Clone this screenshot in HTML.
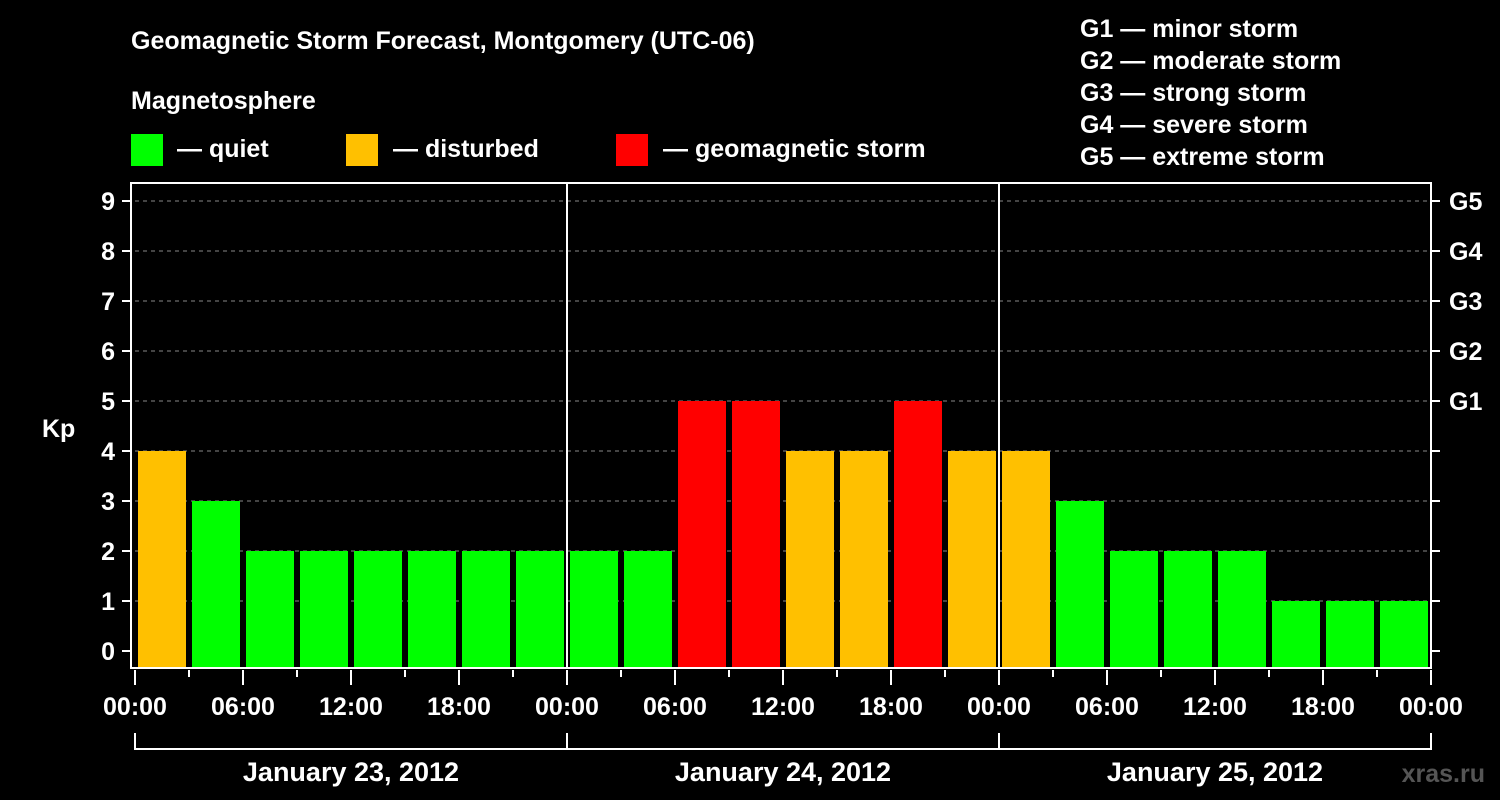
<!DOCTYPE html>
<html><head><meta charset="utf-8"><style>
html,body{margin:0;padding:0;background:#000;}
svg{display:block;font-family:"Liberation Sans",Arial,sans-serif;font-weight:bold;}
</style></head><body>
<svg id="chart" width="1500" height="800" viewBox="0 0 1500 800">
<rect width="1500" height="800" fill="#000"/>
<text x="131" y="49" fill="#fff" font-size="25">Geomagnetic Storm Forecast, Montgomery (UTC-06)</text>
<text x="131" y="109" fill="#fff" font-size="25">Magnetosphere</text>
<g>
<rect x="131" y="134" width="32" height="32" fill="#00ff00"/>
<text x="177" y="157" fill="#fff" font-size="25">— quiet</text>
<rect x="346" y="134" width="32" height="32" fill="#ffc000"/>
<text x="393" y="157" fill="#fff" font-size="25">— disturbed</text>
<rect x="616" y="134" width="32" height="32" fill="#ff0000"/>
<text x="663" y="157" fill="#fff" font-size="25">— geomagnetic storm</text>
</g>
<g fill="#fff" font-size="25">
<text x="1080" y="37">G1 — minor storm</text>
<text x="1080" y="69">G2 — moderate storm</text>
<text x="1080" y="101">G3 — strong storm</text>
<text x="1080" y="133">G4 — severe storm</text>
<text x="1080" y="165">G5 — extreme storm</text>
</g>
<text x="1485" y="782" fill="#555" font-size="25" text-anchor="end">xras.ru</text>
<g id="plot"></g>
</svg>
<script>
const kpValues=[4,3,2,2,2,2,2,2, 2,2,5,5,4,4,5,4, 4,3,2,2,2,1,1,1];
const yTicks=[0,1,2,3,4,5,6,7,8,9];
const gLabels=["G1","G2","G3","G4","G5"];
const gLevels=[5,6,7,8,9];
const timeLabels=["00:00","06:00","12:00","18:00","00:00","06:00","12:00","18:00","00:00","06:00","12:00","18:00","00:00"];
const dayLabels=["January 23, 2012","January 24, 2012","January 25, 2012"];

const NS="http://www.w3.org/2000/svg";
const g=document.getElementById('plot');
const X0=135,X1=1431,YTOP=183,YBOT=668;
const slot=(X1-X0)/kpValues.length;
const x=i=>X0+i*slot;
const y=v=>651-v*50;
function el(t,a,txt){const e=document.createElementNS(NS,t);for(const k in a)e.setAttribute(k,a[k]);if(txt!==undefined)e.textContent=txt;g.appendChild(e);return e;}
const color=v=>v>=5?"#ff0000":(v>=4?"#ffc000":"#00ff00");

yTicks.forEach(v=>{
  if(v>0){const l=el('line',{x1:X0,x2:X1,y1:y(v),y2:y(v),stroke:'#888','stroke-width':1,'stroke-dasharray':'4,4'});
  
  }
  const t=el('line',{x1:122,x2:X0-4,y1:y(v),y2:y(v),stroke:'#fff','stroke-width':2});
  
  
  const tr=el('line',{x1:X1,x2:X1+9,y1:y(v),y2:y(v),stroke:'#fff','stroke-width':2});
  
  
  const lb=el('text',{x:115,y:y(v)+9,fill:'#fff','font-size':25,'text-anchor':'end'},String(v));
  
  
});
gLevels.forEach((v,i)=>{
  const t=el('text',{x:1449,y:y(v)+9,fill:'#fff','font-size':25},gLabels[i]);
  
  
});
const yt=el('text',{x:42,y:437,fill:'#fff','font-size':25},'Kp');



kpValues.forEach((v,i)=>{
  const r=el('rect',{x:x(i)+3,y:y(v),width:slot-6,height:YBOT-y(v),fill:color(v)});
  
  
});

for(let d=1;d<dayLabels.length;d++){
  const l=el('line',{x1:x(d*8),x2:x(d*8),y1:YTOP,y2:YBOT,stroke:'#fff','stroke-width':2});
  
  
}
const fr=el('rect',{x:X0-4,y:YTOP,width:X1-X0+4,height:YBOT-YTOP,fill:'none',stroke:'#fff','stroke-width':2});



for(let i=0;i<=kpValues.length;i++){
  const major=i%2===0;
  const t=el('line',{x1:x(i),x2:x(i),y1:YBOT+2,y2:major?685:677,stroke:'#fff','stroke-width':2});
  
  
}
timeLabels.forEach((s,i)=>{
  const t=el('text',{x:x(i*2),y:715,fill:'#fff','font-size':25,'text-anchor':'middle'},s);
  
  
});
const br=el('path',{d:`M${x(0)} 733V749H${x(24)}V733`,fill:'none',stroke:'#fff','stroke-width':2});


dayLabels.forEach((s,d)=>{
  if(d>0){const l=el('line',{x1:x(d*8),x2:x(d*8),y1:733,y2:749,stroke:'#fff','stroke-width':2});
  
  }
  const t=el('text',{x:x(d*8+4),y:781,fill:'#fff','font-size':27,'text-anchor':'middle'},s);
  
  
});
</script>
</body></html>
